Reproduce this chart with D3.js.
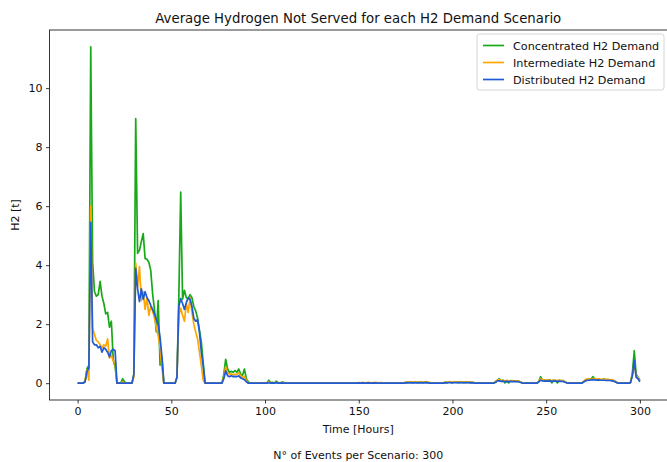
<!DOCTYPE html>
<html>
<head>
<meta charset="utf-8">
<script src="https://cdn.jsdelivr.net/npm/d3@7"></script>
<style>
  html, body { margin: 0; padding: 0; background: #fff; }
  svg { display: block; font-family: "DejaVu Sans", sans-serif; }
</style>
</head>
<body>
<svg id="chart" width="667" height="462"></svg>
<script>
// ---------------- DATA ----------------
const seriesNames = ["Concentrated H2 Demand", "Intermediate H2 Demand", "Distributed H2 Demand"];
const seriesColors = ["#18a818", "#ffa500", "#1f5ad8"];
const xTicks = [0, 50, 100, 150, 200, 250, 300];
const yTicks = [0, 2, 4, 6, 8, 10];
const titleText = "Average Hydrogen Not Served for each H2 Demand Scenario";
const xLabel = "Time [Hours]";
const yLabel = "H2 [t]";
const footText = "N° of Events per Scenario: 300";

const concentrated = [
  0,0,0,0,0.05,0.5,0.6,11.4,4.1,3.1,
  2.95,3.0,3.45,2.95,2.7,2.35,2.4,1.9,2.1,0.8,
  0.55,0,0,0,0.15,0.05,0,0,0,0,
  0.3,8.97,4.4,4.5,4.8,5.07,4.23,4.2,4.1,3.83,
  3.04,2.5,1.74,2.8,0.61,0.88,0,0,0,0,
  0,0,0,0.2,2.9,6.48,2.85,3.15,2.9,2.85,
  3.0,2.9,2.6,2.45,2.2,1.8,1.4,0.7,0,0,
  0,0,0,0,0,0,0,0,0.3,0.81,
  0.48,0.37,0.4,0.37,0.43,0.37,0.48,0.3,0.27,0.48,
  0.15,0.05,0,0,0,0,0,0,0,0,
  0,0,0.1,0.02,0.03,0,0.07,0.02,0,0.04,
  0.03,0,0,0,0,0,0,0,0,0,
  0,0,0,0,0,0,0,0,0,0,
  0,0,0,0,0,0,0,0,0,0,
  0,0,0,0,0,0,0,0,0,0,
  0,0.01,0,0,0.01,0,0,0.01,0,0,
  0,0,0,0,0,0,0,0,0,0,
  0,0,0,0,0,0.03,0.02,0.04,0.03,0.02,
  0.04,0.03,0.02,0.04,0.02,0.03,0.05,0.02,0.01,0,
  0,0,0,0,0,0,0.03,0.02,0.04,0.03,
  0.02,0.04,0.03,0.05,0.02,0.03,0.04,0.02,0.03,0.04,
  0.02,0.03,0.01,0,0,0,0,0,0,0,
  0,0,0,0.05,0.1,0.15,0.08,0.1,0.01,0.08,
  0.01,0.09,0.07,0.08,0.06,0.08,0.05,0.02,0,0,
  0,0,0,0,0,0,0.05,0.22,0.1,0.11,
  0.09,0.1,0.11,0.01,0.1,0.09,0.01,0.1,0.08,0.09,
  0.05,0.02,0,0,0,0,0,0,0,0,
  0.05,0.1,0.12,0.13,0.15,0.22,0.14,0.12,0.13,0.11,
  0.12,0.14,0.1,0.12,0.11,0.1,0.08,0.05,0.01,0,
  0,0,0,0,0,0.02,0.35,1.1,0.3,0.2,
  0.1
];

const intermediate = [
  0,0,0,0,0.1,0.45,0.1,6.0,1.85,1.65,
  1.45,1.4,1.3,1.2,1.3,1.25,1.5,0.85,0.95,0.75,
  0.7,0,0,0,0.05,0,0,0,0,0,
  0.2,4.07,3.27,3.95,2.8,3.1,2.5,2.9,2.3,2.6,
  2.45,2.2,1.9,1.6,1.2,0.5,0,0,0,0,
  0,0,0,0.2,2.3,2.54,2.3,2.1,2.7,2.4,
  2.9,2.4,2.0,1.73,1.5,1.06,0.6,0.1,0,0,
  0,0,0,0,0,0,0,0,0.2,0.55,
  0.35,0.3,0.32,0.28,0.3,0.3,0.35,0.25,0.2,0.22,
  0.1,0,0,0,0,0,0,0,0,0,
  0,0,0.05,0.01,0.02,0,0.03,0.01,0,0.02,
  0.01,0,0,0,0,0,0,0,0,0,
  0,0,0,0,0,0,0,0,0,0,
  0,0,0,0,0,0,0,0,0,0,
  0,0,0,0,0,0,0,0,0,0,
  0.02,0.01,0.03,0.02,0.01,0.03,0.02,0.01,0.02,0.03,
  0.02,0.01,0.02,0,0,0,0,0,0,0,
  0,0,0,0,0,0.04,0.03,0.05,0.04,0.03,
  0.05,0.03,0.04,0.05,0.03,0.04,0.03,0.04,0.02,0,
  0,0,0,0,0,0,0.04,0.03,0.05,0.04,
  0.03,0.05,0.04,0.03,0.05,0.04,0.03,0.05,0.04,0.03,
  0.04,0.02,0.01,0,0,0,0,0,0,0,
  0,0,0,0.05,0.1,0.12,0.1,0.09,0.08,0.1,
  0.07,0.08,0.09,0.07,0.08,0.07,0.05,0.02,0,0,
  0,0,0,0,0,0,0.05,0.15,0.12,0.1,
  0.11,0.1,0.09,0.1,0.11,0.09,0.1,0.1,0.09,0.08,
  0.05,0.02,0,0,0,0,0,0,0,0,
  0.05,0.12,0.15,0.14,0.13,0.16,0.15,0.14,0.15,0.13,
  0.14,0.12,0.13,0.12,0.11,0.12,0.1,0.06,0.02,0,
  0,0,0,0,0,0.02,0.3,0.65,0.25,0.18,
  0.08
];

const distributed = [
  0,0,0,0,0.05,0.4,0.5,5.45,1.4,1.3,
  1.3,1.2,1.25,1.05,1.2,1.15,1.05,0.9,1.1,1.15,
  1.1,0,0,0,0,0,0,0,0,0,
  0.3,3.89,3.2,2.76,3.2,2.85,3.1,2.9,2.8,2.64,
  2.5,2.35,2.15,2.0,1.55,0.88,0,0,0,0,
  0,0,0,0.2,2.6,2.87,2.7,2.5,2.73,2.9,
  2.85,2.6,2.2,2.1,2.15,1.74,1.06,0.6,0,0,
  0,0,0,0,0,0,0,0,0.15,0.42,
  0.25,0.22,0.25,0.22,0.23,0.22,0.25,0.18,0.15,0.12,
  0.05,0,0,0,0,0,0,0,0,0,
  0,0,0.02,0,0.01,0,0.02,0,0,0.01,
  0,0,0,0,0,0,0,0,0,0,
  0,0,0,0,0,0,0,0,0,0,
  0,0,0,0,0,0,0,0,0,0,
  0,0,0,0,0,0,0,0,0,0,
  0.01,0,0.01,0,0,0.01,0,0,0.01,0,
  0,0,0,0,0,0,0,0,0,0,
  0,0,0,0,0,0.01,0.02,0.01,0.02,0.01,
  0.02,0.01,0.02,0.01,0.02,0.01,0.02,0.01,0,0,
  0,0,0,0,0,0,0.02,0.01,0.02,0.02,
  0.01,0.02,0.02,0.01,0.02,0.02,0.01,0.02,0.02,0.01,
  0.02,0.01,0,0,0,0,0,0,0,0,
  0,0,0,0.03,0.08,0.08,0.06,0.07,0.05,0.06,
  0.05,0.06,0.05,0.06,0.05,0.05,0.03,0.01,0,0,
  0,0,0,0,0,0,0.04,0.1,0.08,0.07,
  0.08,0.07,0.08,0.06,0.07,0.08,0.06,0.07,0.06,0.06,
  0.03,0.01,0,0,0,0,0,0,0,0,
  0.04,0.08,0.1,0.1,0.11,0.12,0.11,0.1,0.11,0.1,
  0.1,0.1,0.09,0.1,0.09,0.08,0.07,0.04,0.01,0,
  0,0,0,0,0,0.02,0.25,0.77,0.2,0.15,
  0.05
];

const seriesValues = [concentrated, intermediate, distributed];
const hours = concentrated.map((_, i) => i);

// ---------------- LAYOUT ----------------
const svg = d3.select("#chart");
const mLeft = 49.5, mRight = 668, mTop = 30, mBottom = 400;

const x = d3.scaleLinear().domain([-15, 315]).range([mLeft, mRight]);
const y = d3.scaleLinear().domain([-0.57, 11.97]).range([mBottom, mTop]);

// Lines
const line = d3.line().x((d, i) => x(hours[i])).y(d => y(d));
const plot = svg.append("g");
seriesValues.forEach((vals, k) => {
  plot.append("path")
    .datum(vals)
    .attr("fill", "none")
    .attr("stroke", seriesColors[k])
    .attr("stroke-width", 1.7)
    .attr("stroke-linejoin", "round")
    .attr("d", line);
});

// Axes
const xAxis = d3.axisBottom(x).tickValues(xTicks).tickSize(3.5).tickPadding(3.5);
const yAxis = d3.axisLeft(y).tickValues(yTicks).tickSize(3.5).tickPadding(3.5);

const gx = svg.append("g").attr("transform", `translate(0,${mBottom})`).call(xAxis);
const gy = svg.append("g").attr("transform", `translate(${mLeft},0)`).call(yAxis);
[gx, gy].forEach(g => {
  g.select(".domain").remove();
  g.selectAll("line").attr("stroke", "#222").attr("stroke-width", 0.9);
  g.selectAll("text").attr("fill", "#111").style("font-size", "11px").style("font-family", "DejaVu Sans");
});

// Frame
svg.append("rect")
  .attr("x", mLeft).attr("y", mTop)
  .attr("width", mRight - mLeft).attr("height", mBottom - mTop)
  .attr("fill", "none").attr("stroke", "#222").attr("stroke-width", 0.9);

// Titles
const cx = (mLeft + 667) / 2;
svg.append("text").attr("x", cx).attr("y", 23)
  .attr("text-anchor", "middle").style("font-size", "13.3px").attr("fill", "#111")
  .text(titleText);
svg.append("text").attr("x", cx).attr("y", 432.5)
  .attr("text-anchor", "middle").style("font-size", "11px").attr("fill", "#111")
  .text(xLabel);
svg.append("text").attr("transform", `translate(19,${(mTop + mBottom) / 2}) rotate(-90)`)
  .attr("text-anchor", "middle").style("font-size", "11px").attr("fill", "#111")
  .text(yLabel);
svg.append("text").attr("x", cx).attr("y", 459)
  .attr("text-anchor", "middle").style("font-size", "11px").attr("fill", "#111")
  .text(footText);

// Legend
const lg = svg.append("g");
lg.append("rect")
  .attr("x", 477).attr("y", 34).attr("width", 187).attr("height", 56)
  .attr("rx", 2.5).attr("fill", "#fff").attr("fill-opacity", 0.85)
  .attr("stroke", "#d0d0d0").attr("stroke-width", 0.9);
seriesNames.forEach((name, k) => {
  const yy = 45.5 + k * 17;
  lg.append("line").attr("x1", 483).attr("x2", 504).attr("y1", yy).attr("y2", yy)
    .attr("stroke", seriesColors[k]).attr("stroke-width", 1.7);
  lg.append("text").attr("x", 513).attr("y", yy + 4)
    .style("font-size", "11.2px").attr("fill", "#111").text(name);
});
</script>
</body>
</html>
